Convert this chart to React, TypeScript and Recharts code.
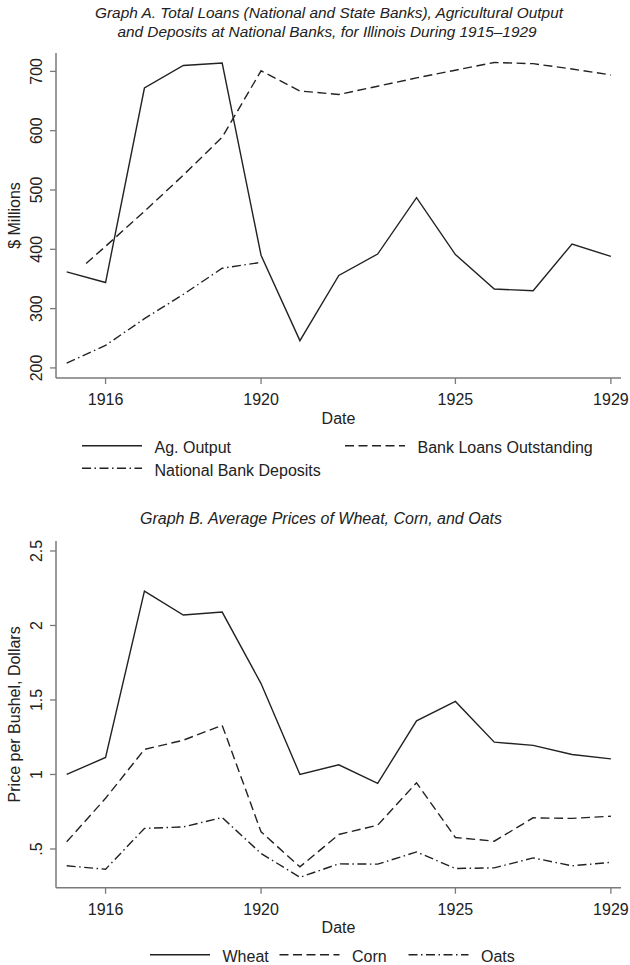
import { Line, LineChart, XAxis, YAxis } from "recharts";

const FONT = '"Liberation Sans", Arial, Helvetica, sans-serif';
const INK = "#222";
const AXIS = "#7a7a7a";
const DASH = "9 4.5";
const DASH_DOT = "9 3.5 1.5 3.5";

// Graph A
const years = [1915, 1916, 1917, 1918, 1919, 1920, 1921, 1922, 1923, 1924, 1925, 1926, 1927, 1928, 1929];
const agOutput = [362, 344, 672, 710, 714, 390, 246, 356, 392, 487, 391, 333, 330, 409, 388];
const loanYears = [1915.5, 1916, 1917, 1918, 1919, 1920, 1921, 1922, 1923, 1924, 1925, 1926, 1927, 1928, 1929];
const bankLoans = [376, 405, 464, 525, 589, 701, 667, 661, 675, 689, 702, 715, 713, 704, 694];
const depositYears = [1915, 1916, 1917, 1918, 1919, 1920];
const deposits = [208, 238, 283, 324, 368, 378];
const millionTicks = [200, 300, 400, 500, 600, 700];

// Graph B
const wheat = [1.0, 1.114, 2.23, 2.07, 2.09, 1.61, 1.0, 1.065, 0.94, 1.36, 1.49, 1.217, 1.195, 1.134, 1.105];
const corn = [0.548, 0.84, 1.168, 1.23, 1.33, 0.615, 0.38, 0.597, 0.66, 0.944, 0.577, 0.552, 0.709, 0.705, 0.72];
const oats = [0.387, 0.364, 0.638, 0.648, 0.711, 0.47, 0.31, 0.4, 0.398, 0.48, 0.369, 0.373, 0.44, 0.387, 0.41];
const priceTicks = [0.5, 1, 1.5, 2, 2.5];

const yearTicks = [1916, 1920, 1925, 1929];

const toPoints = (xs: number[], vs: number[]) => xs.map((year, i) => ({ year, value: vs[i] }));

const XTick = (props: any) => {
  const { x, y, payload } = props;
  return (
    <text x={x} y={y + 19} textAnchor="middle" fill={INK} fontSize={16} fontFamily={FONT}>
      {payload.value}
    </text>
  );
};

const makeYTick = (fmt: (v: number) => string) => (props: any) => {
  const { x, y, payload } = props;
  const bx = x - 6;
  return (
    <text
      x={bx}
      y={y}
      transform={`rotate(-90 ${bx} ${y})`}
      textAnchor="middle"
      fill={INK}
      fontSize={16}
      fontFamily={FONT}
    >
      {fmt(payload.value)}
    </text>
  );
};

const yLabel = (text: string) => (props: any) => {
  const vb = props.viewBox;
  const cx = 20;
  const cy = vb.y + vb.height / 2;
  return (
    <text
      x={cx}
      y={cy}
      transform={`rotate(-90 ${cx} ${cy})`}
      textAnchor="middle"
      fill={INK}
      fontSize={16}
      fontFamily={FONT}
    >
      {text}
    </text>
  );
};

const dateLabel = (props: any) => {
  const vb = props.viewBox;
  return (
    <text x={vb.x + vb.width / 2} y={vb.y + 45.5} textAnchor="middle" fill={INK} fontSize={16} fontFamily={FONT}>
      Date
    </text>
  );
};

const seriesA = [
  { name: "Ag. Output", data: toPoints(years, agOutput), dash: undefined },
  { name: "Bank Loans Outstanding", data: toPoints(loanYears, bankLoans), dash: DASH },
  { name: "National Bank Deposits", data: toPoints(depositYears, deposits), dash: DASH_DOT },
];

const seriesB = [
  { name: "Wheat", data: toPoints(years, wheat), dash: undefined },
  { name: "Corn", data: toPoints(years, corn), dash: DASH },
  { name: "Oats", data: toPoints(years, oats), dash: DASH_DOT },
];

// legend placement: [sample x, baseline y]
const legendA = [
  [82, 453.3],
  [345, 453.3],
  [82, 475.7],
];
const legendB = [
  [150, 962.3],
  [279.5, 962.3],
  [408.5, 962.3],
];

export default function App() {
  const xAxis = (h: number) => (
    <XAxis
      type="number"
      dataKey="year"
      domain={[1914.725, 1929.26]}
      ticks={yearTicks}
      allowDataOverflow
      interval={0}
      height={h}
      tickSize={6}
      axisLine={{ stroke: AXIS, strokeWidth: 1.5 }}
      tickLine={{ stroke: AXIS, strokeWidth: 1.3 }}
      tick={XTick}
      label={{ content: dateLabel }}
    />
  );

  const lines = (series: typeof seriesA) =>
    series.map((s) => (
      <Line
        key={s.name}
        data={s.data}
        dataKey="value"
        name={s.name}
        type="linear"
        stroke={INK}
        strokeWidth={1.4}
        strokeDasharray={s.dash}
        dot={false}
        activeDot={false}
        isAnimationActive={false}
      />
    ));

  return (
    <div style={{ position: "absolute", left: 0, top: 0, width: 630, height: 965, background: "#fff" }}>
      <div style={{ position: "absolute", left: 0, top: 0 }}>
        <LineChart width={630} height={480} margin={{ top: 53, right: 9, left: 0, bottom: 0 }}>
          {xAxis(102)}
          <YAxis
            type="number"
            domain={[183, 731]}
            ticks={millionTicks}
            allowDataOverflow
            interval={0}
            width={56}
            tickSize={6}
            axisLine={{ stroke: AXIS, strokeWidth: 1.5 }}
            tickLine={{ stroke: AXIS, strokeWidth: 1.3 }}
            tick={makeYTick((v) => String(v))}
            label={{ content: yLabel("$ Millions") }}
          />
          {lines(seriesA)}
        </LineChart>
      </div>
      <div style={{ position: "absolute", left: 0, top: 480 }}>
        <LineChart width={630} height={485} margin={{ top: 61, right: 9, left: 0, bottom: 0 }}>
          {xAxis(77.3)}
          <YAxis
            type="number"
            domain={[0.24, 2.567]}
            ticks={priceTicks}
            allowDataOverflow
            interval={0}
            width={56}
            tickSize={6}
            axisLine={{ stroke: AXIS, strokeWidth: 1.5 }}
            tickLine={{ stroke: AXIS, strokeWidth: 1.3 }}
            tick={makeYTick((v) => (v === 0.5 ? ".5" : String(v)))}
            label={{ content: yLabel("Price per Bushel, Dollars") }}
          />
          {lines(seriesB)}
        </LineChart>
      </div>
      <svg
        width={630}
        height={965}
        style={{ position: "absolute", left: 0, top: 0, pointerEvents: "none" }}
        fontFamily={FONT}
        fill={INK}
      >
        <text x={329} y={17.5} textAnchor="middle" fontSize={15.4} fontStyle="italic">
          Graph A. Total Loans (National and State Banks), Agricultural Output
        </text>
        <text x={327} y={37} textAnchor="middle" fontSize={15.4} fontStyle="italic">
          and Deposits at National Banks, for Illinois During 1915–1929
        </text>
        <text x={321} y={524} textAnchor="middle" fontSize={16} fontStyle="italic">
          Graph B. Average Prices of Wheat, Corn, and Oats
        </text>
        {[...seriesA.map((s, i) => [s, legendA[i]] as const), ...seriesB.map((s, i) => [s, legendB[i]] as const)].map(
          ([s, [lx, ly]]) => (
            <g key={s.name}>
              <line
                x1={lx}
                x2={lx + 60}
                y1={ly - 7.5}
                y2={ly - 7.5}
                stroke={INK}
                strokeWidth={1.4}
                strokeDasharray={s.dash}
              />
              <text x={lx + 72.5} y={ly} fontSize={16}>
                {s.name}
              </text>
            </g>
          )
        )}
      </svg>
    </div>
  );
}
